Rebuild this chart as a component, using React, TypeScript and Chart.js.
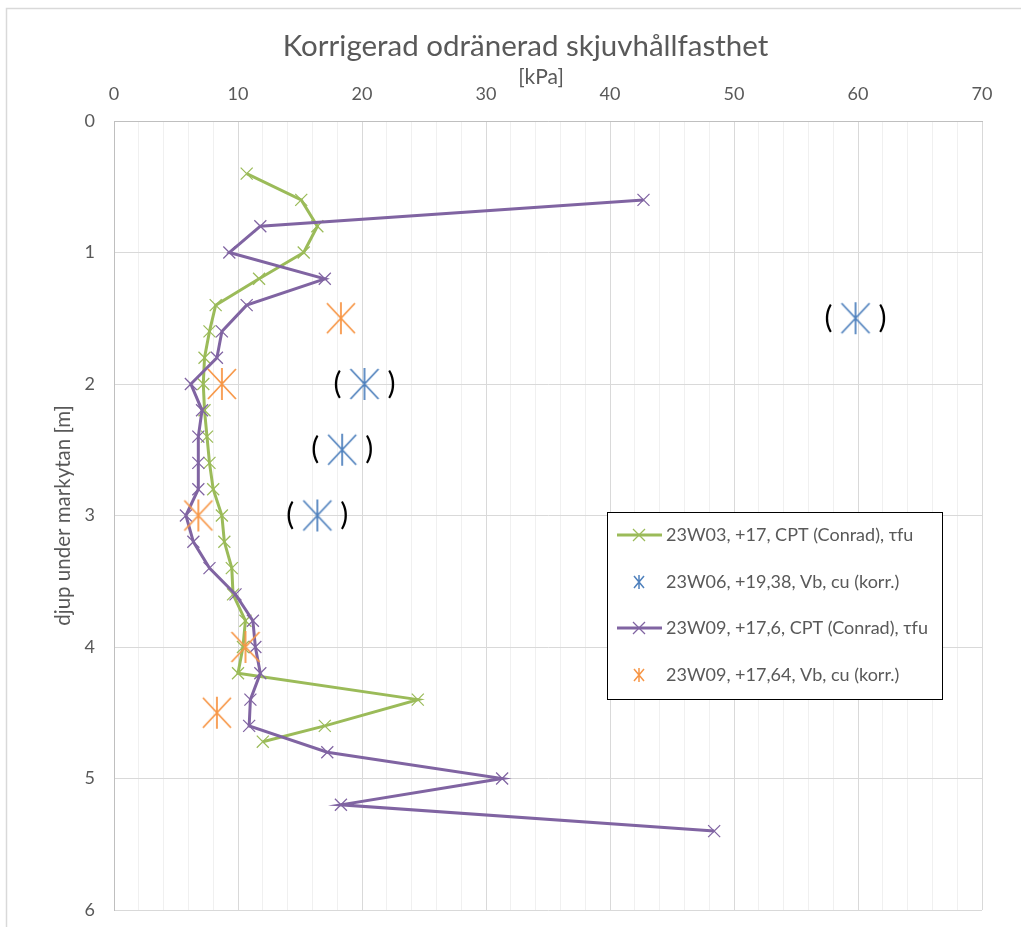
import React, { useEffect, useRef } from "react";
import { Chart, registerables } from "chart.js";

Chart.register(...registerables);

const chartTitle = "Korrigerad odränerad skjuvhållfasthet";
const xAxisTitle = "[kPa]";
const yAxisTitle = "djup under markytan [m]";

const seriesLabels = [
  "23W03, +17, CPT (Conrad), τfu",
  "23W06, +19,38, Vb, cu (korr.)",
  "23W09, +17,6, CPT (Conrad), τfu",
  "23W09, +17,64, Vb, cu (korr.)",
];

// 23W03 CPT
const w03Depth = [0.4, 0.6, 0.8, 1.0, 1.2, 1.4, 1.6, 1.8, 2.0, 2.2, 2.4, 2.6, 2.8, 3.0, 3.2, 3.4, 3.6, 3.8, 4.0, 4.2, 4.4, 4.6, 4.72];
const w03Tfu = [10.7, 15.1, 16.4, 15.3, 11.7, 8.2, 7.7, 7.3, 7.2, 7.3, 7.5, 7.7, 8.0, 8.7, 8.9, 9.5, 9.6, 10.6, 10.4, 10.0, 24.5, 17.0, 12.0];

// 23W06 vingborr
const w06Depth = [1.5, 2.0, 2.5, 3.0];
const w06Cu = [59.8, 20.2, 18.4, 16.4];

// 23W09 CPT
const w09Depth = [0.6, 0.8, 1.0, 1.2, 1.4, 1.6, 1.8, 2.0, 2.2, 2.4, 2.6, 2.8, 3.0, 3.2, 3.4, 3.6, 3.8, 4.0, 4.2, 4.4, 4.6, 4.8, 5.0, 5.2, 5.4];
const w09Tfu = [42.7, 11.8, 9.3, 17.0, 10.7, 8.7, 8.3, 6.2, 7.1, 6.8, 6.8, 6.8, 5.8, 6.4, 7.7, 9.8, 11.2, 11.4, 11.8, 11.0, 10.9, 17.2, 31.3, 18.3, 48.4];

// 23W09 vingborr
const w09VbDepth = [1.5, 2.0, 3.0, 4.0, 4.5];
const w09VbCu = [18.3, 8.7, 6.8, 10.6, 8.3];

const xMin = 0;
const xMax = 70;
const xMajorStep = 10;
const xMinorStep = 2;
const yMin = 0;
const yMax = 6;

const GREEN = "#9BBB59";
const BLUE = "#4F81BD";
const PURPLE = "#8064A2";
const ORANGE = "#F79646";
const TEXT = "#595959";
const FONT = "Lato, 'Open Sans', sans-serif";

function makeAsterisk(color: string, halfW: number, halfH: number, lw: number) {
  const size = Math.ceil(Math.max(halfW, halfH) * 2 + 4);
  const c = document.createElement("canvas");
  c.width = size;
  c.height = size;
  const ctx = c.getContext("2d")!;
  const cx = size / 2;
  const cy = size / 2;
  ctx.strokeStyle = color;
  ctx.lineWidth = lw;
  ctx.beginPath();
  ctx.moveTo(cx - halfW, cy - halfH);
  ctx.lineTo(cx + halfW, cy + halfH);
  ctx.moveTo(cx + halfW, cy - halfH);
  ctx.lineTo(cx - halfW, cy + halfH);
  ctx.moveTo(cx, cy - halfH - 1);
  ctx.lineTo(cx, cy + halfH + 1);
  ctx.stroke();
  return c;
}

function toXY(xs: number[], ys: number[]) {
  return xs.map((x, i) => ({ x, y: ys[i] }));
}

export default function App() {
  const ref = useRef<HTMLCanvasElement | null>(null);

  useEffect(() => {
    const canvas = ref.current;
    if (!canvas) return;

    const blueStar = makeAsterisk(BLUE, 14, 15, 1.75);
    const orangeStar = makeAsterisk(ORANGE, 14, 15, 1.75);
    const blueSmall = makeAsterisk(BLUE, 5, 6, 1.5);
    const orangeSmall = makeAsterisk(ORANGE, 5, 6, 1.5);

    const bgPlugin = {
      id: "bgBorder",
      beforeDraw(chart: any) {
        const { ctx, width, height } = chart;
        ctx.save();
        ctx.fillStyle = "#ffffff";
        ctx.fillRect(0, 0, width, height);
        ctx.strokeStyle = "#d9d9d9";
        ctx.lineWidth = 1.5;
        ctx.beginPath();
        ctx.moveTo(6.5, height);
        ctx.lineTo(6.5, 8.5);
        ctx.lineTo(width, 8.5);
        ctx.stroke();
        ctx.restore();
      },
    };

    const textPlugin = {
      id: "titles",
      afterDraw(chart: any) {
        const ctx = chart.ctx;
        const ca = chart.chartArea;
        ctx.save();
        ctx.fillStyle = TEXT;
        ctx.textAlign = "center";
        ctx.textBaseline = "middle";
        ctx.font = `29.5px ${FONT}`;
        ctx.fillText(chartTitle, ca.left + 411.5, ca.top - 75);
        ctx.font = `21px ${FONT}`;
        ctx.fillText(xAxisTitle, ca.left + 427, ca.top - 44);
        ctx.restore();
      },
    };

    const parenPlugin = {
      id: "parens",
      afterDatasetsDraw(chart: any) {
        const meta = chart.getDatasetMeta(1);
        const ctx = chart.ctx;
        ctx.save();
        ctx.fillStyle = "#000000";
        ctx.font = `30px ${FONT}`;
        ctx.textAlign = "center";
        ctx.textBaseline = "middle";
        meta.data.forEach((pt: any) => {
          ctx.fillText("(", pt.x - 27, pt.y);
          ctx.fillText(")", pt.x + 27, pt.y);
        });
        ctx.restore();
      },
    };

    const legendPlugin = {
      id: "boxLegend",
      afterDraw(chart: any) {
        const ctx = chart.ctx;
        const ca = chart.chartArea;
        const left = ca.left + 493;
        const top = ca.top + 391;
        const w = 335;
        const h = 187;
        ctx.save();
        ctx.fillStyle = "#ffffff";
        ctx.fillRect(left, top, w, h);
        ctx.strokeStyle = "#000000";
        ctx.lineWidth = 1;
        ctx.strokeRect(left + 0.5, top + 0.5, w, h);
        const rows = [23, 70, 116, 163];
        const colors = [GREEN, BLUE, PURPLE, ORANGE];
        rows.forEach((dy, i) => {
          const y = top + dy;
          const mx = left + 32;
          if (i === 0 || i === 2) {
            ctx.strokeStyle = colors[i];
            ctx.lineWidth = 3;
            ctx.beginPath();
            ctx.moveTo(left + 10, y);
            ctx.lineTo(left + 55, y);
            ctx.stroke();
            ctx.lineWidth = 1.25;
            ctx.beginPath();
            ctx.moveTo(mx - 6, y - 6);
            ctx.lineTo(mx + 6, y + 6);
            ctx.moveTo(mx + 6, y - 6);
            ctx.lineTo(mx - 6, y + 6);
            ctx.stroke();
          } else {
            const img = i === 1 ? blueSmall : orangeSmall;
            ctx.drawImage(img, mx - img.width / 2, y - img.height / 2);
          }
          ctx.fillStyle = TEXT;
          ctx.font = `18px ${FONT}`;
          ctx.textAlign = "left";
          ctx.textBaseline = "middle";
          ctx.fillText(seriesLabels[i], left + 59, y);
        });
        ctx.restore();
      },
    };

    const chart = new Chart(canvas, {
      type: "scatter",
      data: {
        datasets: [
          {
            label: seriesLabels[0],
            data: toXY(w03Tfu, w03Depth),
            showLine: true,
            borderColor: GREEN,
            backgroundColor: GREEN,
            borderWidth: 3,
            pointStyle: "crossRot",
            pointRadius: 8.5,
            pointBorderWidth: 1.25,
            pointBorderColor: GREEN,
            order: 4,
          },
          {
            label: seriesLabels[1],
            data: toXY(w06Cu, w06Depth),
            showLine: false,
            pointStyle: blueStar as any,
            pointRadius: 15,
            borderColor: BLUE,
            backgroundColor: BLUE,
            order: 3,
          },
          {
            label: seriesLabels[2],
            data: toXY(w09Tfu, w09Depth),
            showLine: true,
            borderColor: PURPLE,
            backgroundColor: PURPLE,
            borderWidth: 3,
            pointStyle: "crossRot",
            pointRadius: 8.5,
            pointBorderWidth: 1.25,
            pointBorderColor: PURPLE,
            order: 2,
          },
          {
            label: seriesLabels[3],
            data: toXY(w09VbCu, w09VbDepth),
            showLine: false,
            pointStyle: orangeStar as any,
            pointRadius: 15,
            borderColor: ORANGE,
            backgroundColor: ORANGE,
            order: 1,
          },
        ],
      },
      options: {
        animation: false,
        responsive: false,
        events: [],
        layout: { padding: { left: 8, top: 63.7, right: 39, bottom: 17 } },
        plugins: {
          legend: { display: false },
          tooltip: { enabled: false },
          title: { display: false },
        },
        scales: {
          x: {
            type: "linear",
            position: "top",
            min: xMin,
            max: xMax,
            afterFit(scale: any) {
              scale.height = 57.3;
              scale.paddingLeft = 0;
              scale.paddingRight = 0;
            },
            ticks: {
              stepSize: xMinorStep,
              autoSkip: false,
              maxRotation: 0,
              padding: 15.7,
              color: TEXT,
              font: { family: FONT, size: 18 },
              callback: (v: any) => (Number(v) % xMajorStep === 0 ? String(v) : ""),
            },
            grid: {
              drawTicks: false,
              color: (c: any) => (c.tick && c.tick.value % xMajorStep === 0 ? "#d9d9d9" : "#f0f0f0"),
              lineWidth: 1,
            },
            border: { display: true, color: "#bfbfbf", width: 1 },
            title: { display: false },
          },
          y: {
            type: "linear",
            reverse: true,
            min: yMin,
            max: yMax,
            afterFit(scale: any) {
              scale.width = 106;
              scale.paddingTop = 0;
              scale.paddingBottom = 0;
            },
            ticks: {
              stepSize: 1,
              padding: 19,
              color: TEXT,
              font: { family: FONT, size: 18 },
            },
            grid: {
              drawTicks: false,
              color: "#d9d9d9",
              lineWidth: 1,
            },
            border: { display: true, color: "#bfbfbf", width: 1 },
            title: {
              display: true,
              text: yAxisTitle,
              color: TEXT,
              font: { family: FONT, size: 20.5 },
              padding: { top: 42.7, bottom: 0 },
            },
          },
        },
      },
      plugins: [bgPlugin, parenPlugin, legendPlugin, textPlugin],
    } as any);

    return () => {
      chart.destroy();
    };
  }, []);

  return (
    <div style={{ position: "absolute", left: 0, top: 0, width: 1021, height: 927 }}>
      <canvas ref={ref} width={1021} height={927} style={{ width: 1021, height: 927, display: "block" }} />
    </div>
  );
}
